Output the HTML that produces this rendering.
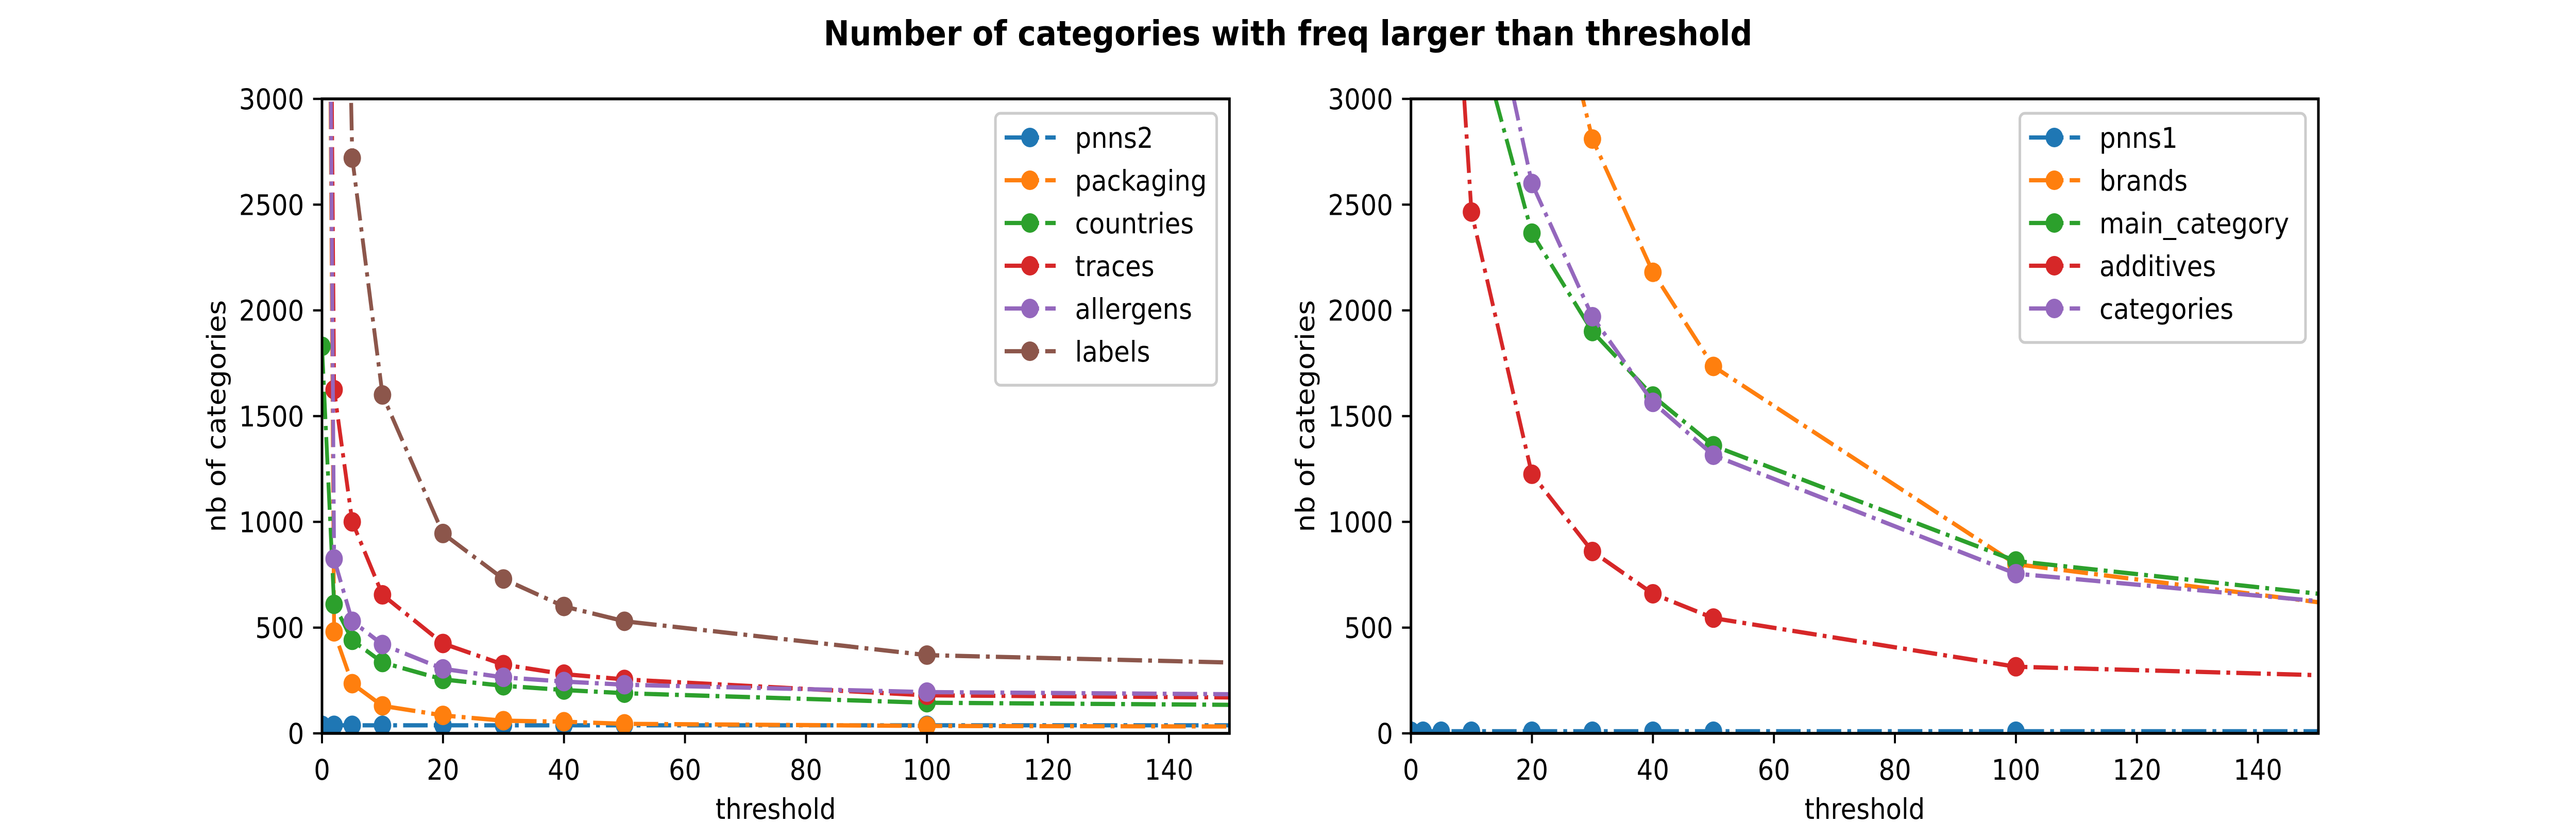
<!DOCTYPE html>
<html><head><meta charset="utf-8"><style>
html,body{margin:0;padding:0;background:#fff;overflow:hidden;width:100vw;height:100vh;}
svg{display:block;width:100vw;height:100vh;font-family:"DejaVu Sans","Liberation Sans",sans-serif;}
</style></head><body>
<svg id="fig" viewBox="0 0 5600 1600" preserveAspectRatio="none" xmlns="http://www.w3.org/2000/svg">
<rect width="5600" height="1600" fill="#fff"/>
<text x="2800" y="88" text-anchor="middle" font-size="67" font-weight="bold">Number of categories with freq larger than threshold</text>
</svg>
<script>
// ---- data ----
const leftThresholds = [0, 2, 5, 10, 20, 30, 40, 50, 100, 200];
const leftNames = ["pnns2", "packaging", "countries", "traces", "allergens", "labels"];
const pnns2Values = [38, 38, 38, 38, 38, 38, 38, 38, 38, 38];
const packagingValues = [9000, 480, 235, 130, 85, 60, 55, 45, 35, 30];
const countriesValues = [1830, 610, 440, 335, 255, 225, 205, 190, 145, 125];
const tracesValues = [9000, 1625, 1000, 655, 425, 325, 280, 255, 180, 160];
const allergensValues = [9000, 825, 530, 420, 305, 265, 245, 230, 195, 175];
const labelsValues = [12000, 7000, 2720, 1600, 945, 730, 600, 530, 370, 300];

const rightThresholds = [0, 2, 5, 10, 20, 30, 40, 50, 100, 200];
const rightNames = ["pnns1", "brands", "main_category", "additives", "categories"];
const pnns1Values = [10, 10, 10, 10, 10, 10, 10, 10, 10, 10];
const brandsValues = [20000, 15000, 10000, 7000, 4000, 2810, 2180, 1735, 800, 440];
const mainCategoryValues = [9000, 7000, 5000, 3420, 2365, 1900, 1595, 1360, 815, 505];
const additivesValues = [9000, 7000, 4700, 2465, 1225, 860, 660, 545, 315, 235];
const categoriesValues = [9000, 7000, 5500, 3930, 2600, 1970, 1565, 1315, 755, 495];

const xTicks = [0, 20, 40, 60, 80, 100, 120, 140];
const yTicks = [0, 500, 1000, 1500, 2000, 2500, 3000];
const colors = ["#1f77b4", "#ff7f0e", "#2ca02c", "#d62728", "#9467bd", "#8c564b"];

const NS = "http://www.w3.org/2000/svg";
const svg = document.getElementById("fig");
function mk(tag, attrs, parent) {
  const e = document.createElementNS(NS, tag);
  for (const k in attrs) e.setAttribute(k, attrs[k]);
  (parent || svg).appendChild(e);
  return e;
}

function drawPanel(idx, x0, x1, y0, y1, thresholds, names, series, legendX, legendW) {
  const xS = v => x0 + (v / 150) * (x1 - x0);
  const yS = v => y1 - (v / 3000) * (y1 - y0);
  const g = mk("g", {});
  
  
  const clipId = "clip" + idx;
  const defs = mk("defs", {}, g);
  const cp = mk("clipPath", {id: clipId}, defs);
  mk("rect", {x: x0, y: y0, width: x1 - x0, height: y1 - y0}, cp);

  const plot = mk("g", {"clip-path": "url(#" + clipId + ")"}, g);
  series.forEach((vals, si) => {
    const sg = mk("g", {}, plot);
    
    
    const pts = thresholds.map((t, i) => xS(t).toFixed(1) + "," + yS(vals[i]).toFixed(1)).join(" ");
    const pl = mk("polyline", {points: pts, fill: "none", stroke: colors[si], "stroke-width": 8.3,
      "stroke-dasharray": "53.3 13.3 8.3 13.3", "stroke-linejoin": "round"}, sg);
    
    
    thresholds.forEach((t, i) => {
      if (t > 150) return;
      const c = mk("circle", {cx: xS(t), cy: yS(vals[i]), r: 19, fill: colors[si]}, sg);
      
      
    });
  });

  const fr = mk("rect", {x: x0, y: y0, width: x1 - x0, height: y1 - y0, fill: "none", stroke: "#000", "stroke-width": 5.6}, g);
  
  

  xTicks.forEach(t => {
    const x = xS(t);
    mk("line", {x1: x, x2: x, y1: y1, y2: y1 + 19.4, stroke: "#000", "stroke-width": 4.4}, g);
    const tx = mk("text", {x: x, y: y1 + 90, "text-anchor": "middle", "font-size": 55.6}, g);
    tx.textContent = t;
    
    
  });
  yTicks.forEach(t => {
    const y = yS(t);
    mk("line", {x1: x0 - 19.4, x2: x0, y1: y, y2: y, stroke: "#000", "stroke-width": 4.4}, g);
    const tx = mk("text", {x: x0 - 39, y: y + 20, "text-anchor": "end", "font-size": 55.6}, g);
    tx.textContent = t;
    
    
  });
  const xl = mk("text", {x: (x0 + x1) / 2, y: 1590, "text-anchor": "middle", "font-size": 55.6}, g);
  xl.textContent = "threshold";
  
  
  const yl = mk("text", {x: 0, y: 0, "text-anchor": "middle", "font-size": 55.6,
    transform: "translate(" + (x0 - 210) + "," + ((y0 + y1) / 2) + ") rotate(-90)"}, g);
  yl.textContent = "nb of categories";
  
  

  const lg = mk("g", {}, g);
  
  
  const ly = y0 + 28, step = 83;
  mk("rect", {x: legendX, y: ly, width: legendW, height: names.length * step + 30, rx: 11, fill: "#fff",
    "fill-opacity": 0.8, stroke: "#ccc", "stroke-width": 5.6}, lg);
  names.forEach((n, i) => {
    const cy = ly + 47 + i * step;
    const eg = mk("g", {}, lg);
    
    
    mk("line", {x1: legendX + 20, x2: legendX + 131, y1: cy, y2: cy, stroke: colors[i], "stroke-width": 8.3,
      "stroke-dasharray": "53.3 13.3 8.3 13.3"}, eg);
    mk("circle", {cx: legendX + 75, cy: cy, r: 19, fill: colors[i]}, eg);
    const t = mk("text", {x: legendX + 173, y: cy + 20, "font-size": 55.6}, eg);
    t.textContent = n;
  });
}

drawPanel(0, 700, 2672.7, 192, 1424, leftThresholds, leftNames,
  [pnns2Values, packagingValues, countriesValues, tracesValues, allergensValues, labelsValues], 2164, 481);
drawPanel(1, 3067.3, 5040, 192, 1424, rightThresholds, rightNames,
  [pnns1Values, brandsValues, mainCategoryValues, additivesValues, categoriesValues], 4391, 621);
</script>
</body></html>
